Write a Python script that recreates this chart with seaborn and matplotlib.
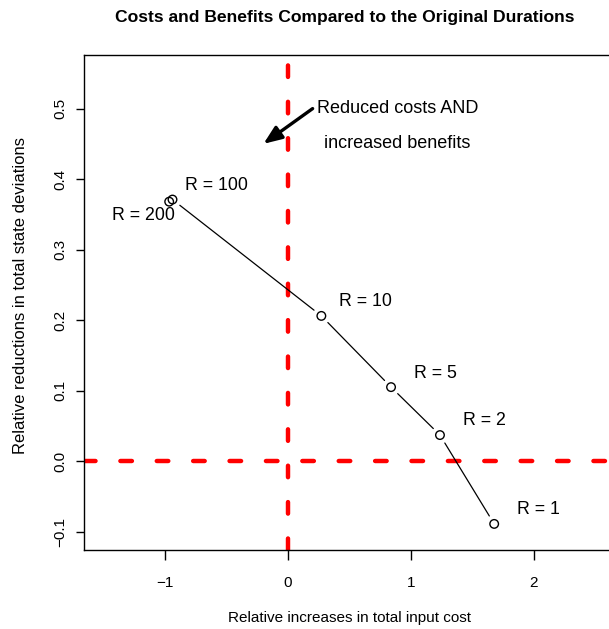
import numpy as np
import pandas as pd
import matplotlib
matplotlib.use("Agg")
import matplotlib.pyplot as plt
import seaborn as sns

# Relaxation factor R and the resulting cost / benefit trade-off
r_values = [1, 2, 5, 10, 100, 200]
cost_increase = [1.677, 1.236, 0.838, 0.271, -0.940, -0.967]
deviation_reduction = [-0.089, 0.037, 0.105, 0.206, 0.371, 0.368]
point_labels = [f"R = {r}" for r in r_values]

x_ticks = [-1, 0, 1, 2]
x_tick_labels = ["\u22121", "0", "1", "2"]
y_ticks = [-0.1, 0.0, 0.1, 0.2, 0.3, 0.4, 0.5]
y_tick_labels = ["\u22120.1", "0.0", "0.1", "0.2", "0.3", "0.4", "0.5"]

title = "Costs and Benefits Compared to the Original Durations"
x_label = "Relative increases in total input cost"
y_label = "Relative reductions in total state deviations"
note_lines = ["Reduced costs AND", "increased benefits"]

df = pd.DataFrame({
    "R": r_values,
    "cost": cost_increase,
    "reduction": deviation_reduction,
    "label": point_labels,
})

sns.set_theme(style="ticks")
plt.rcParams["font.family"] = ["Liberation Sans", "DejaVu Sans"]
plt.rcParams["lines.scale_dashes"] = False
for key in ("text.color", "axes.labelcolor", "xtick.color", "ytick.color", "axes.edgecolor"):
    plt.rcParams[key] = "black"

W, H, DPI = 609, 629, 100
fig = plt.figure(figsize=(W / DPI, H / DPI), dpi=DPI)
ax = fig.add_axes([84 / W, 79 / H, 531 / W, 495 / H])
ax.set_xlim(-1.66, 2.66)
ax.set_ylim(-0.126, 0.576)

# Break-even reference lines
ref_style = dict(color="red", lw=3.2, ls=(0, (8.3, 17.9)),
                 dash_capstyle="round", zorder=1)
ax.axhline(0, **ref_style)
ax.axvline(0, **ref_style)

# Connecting path, with gaps left around each point marker
gap_px = 9.3 * DPI / 100
pts = ax.transData.transform(df[["cost", "reduction"]].to_numpy())
inv = ax.transData.inverted()
rows = []
for i, (p, q) in enumerate(zip(pts[:-1], pts[1:])):
    d = q - p
    length = np.hypot(*d)
    if length > 2 * gap_px:
        u = d / length
        ends = inv.transform(np.vstack([p + u * gap_px, q - u * gap_px]))
        for k, (xx, yy) in enumerate(ends):
            rows.append({"seg": i, "order": k, "x": xx, "y": yy})
seg_df = pd.DataFrame(rows)
sns.lineplot(data=seg_df, x="x", y="y", units="seg", estimator=None,
             sort=False, color="black", lw=0.9, ax=ax, zorder=2)

sns.scatterplot(data=df, x="cost", y="reduction", marker="o", s=38,
                facecolor="none", edgecolor="black", linewidth=1.0,
                ax=ax, zorder=3, legend=False)

# Point labels
default_offset = (0.36, 0.02)
special_offsets = {200: (-0.21, -0.02)}
for _, row in df.iterrows():
    dx, dy = special_offsets.get(row["R"], default_offset)
    ax.text(row["cost"] + dx, row["reduction"] + dy, row["label"],
            ha="center", va="center", fontsize=12.8)

# Annotation for the desirable quadrant
ax.annotate("", xy=(-0.2, 0.45), xytext=(0.2, 0.5),
            arrowprops=dict(arrowstyle="-|>,head_length=0.55,head_width=0.22",
                            lw=2.4, color="black", shrinkA=0, shrinkB=0,
                            mutation_scale=20))
ax.text(0.89, 0.5, note_lines[0], ha="center", va="center", fontsize=13)
ax.text(0.89, 0.45, note_lines[1], ha="center", va="center", fontsize=13)

ax.set_xticks(x_ticks, x_tick_labels)
ax.set_yticks(y_ticks, y_tick_labels, rotation=90, va="center")
ax.tick_params(axis="x", length=7.5, width=1.0, pad=11, labelsize=11)
ax.tick_params(axis="y", length=6, width=1.0, pad=6, labelsize=11)
for s in ax.spines.values():
    s.set_visible(True)
    s.set_linewidth(1.0)
    s.set_color("black")

ax.set_xlabel(x_label, fontsize=11, labelpad=15)
ax.set_ylabel(y_label, fontsize=12)
ax.yaxis.set_label_coords(-0.106, 0.515)
fig.text(345 / W, 1 - 17.5 / H, title, ha="center", va="center",
         fontsize=12.6, fontweight="bold")

fig.savefig("out.png", dpi=DPI)
